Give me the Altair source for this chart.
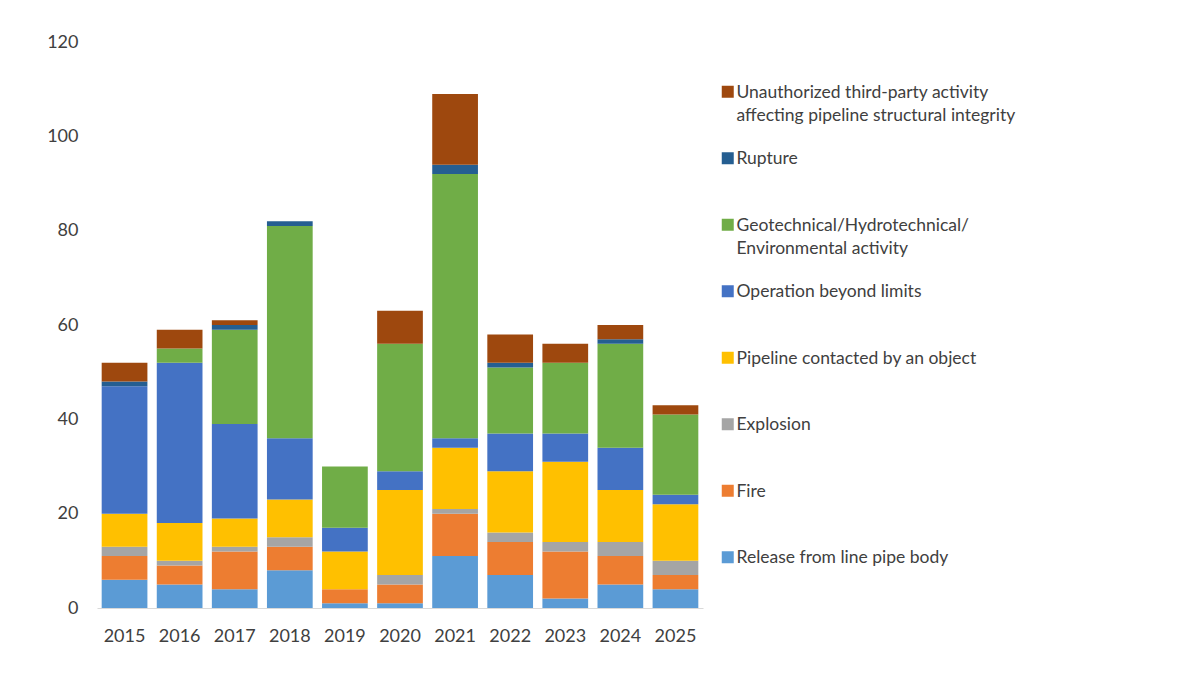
import altair as alt
import pandas as pd

years = ["2015", "2016", "2017", "2018", "2019", "2020",
         "2021", "2022", "2023", "2024", "2025"]

# Stack order, bottom to top
categories = [
    "Release from line pipe body",
    "Fire",
    "Explosion",
    "Pipeline contacted by an object",
    "Operation beyond limits",
    "Geotechnical/Hydrotechnical/\nEnvironmental activity",
    "Rupture",
    "Unauthorized third-party activity\naffecting pipeline structural integrity",
]
colors = ["#5B9BD5", "#ED7D31", "#A5A5A5", "#FFC000",
          "#4472C4", "#70AD47", "#255E91", "#9E480E"]

release = [6, 5, 4, 8, 1, 1, 11, 7, 2, 5, 4]
fire = [5, 4, 8, 5, 3, 4, 9, 7, 10, 6, 3]
explosion = [2, 1, 1, 2, 0, 2, 1, 2, 2, 3, 3]
contacted = [7, 8, 6, 8, 8, 18, 13, 13, 17, 11, 12]
operation = [27, 34, 20, 13, 5, 4, 2, 8, 6, 9, 2]
geotechnical = [0, 3, 20, 45, 13, 27, 56, 14, 15, 22, 17]
rupture = [1, 0, 1, 1, 0, 0, 2, 1, 0, 1, 0]
unauthorized = [4, 4, 1, 0, 0, 7, 15, 6, 4, 3, 2]

series = [release, fire, explosion, contacted, operation,
          geotechnical, rupture, unauthorized]

rows = []
for order, (cat, vals) in enumerate(zip(categories, series)):
    for year, v in zip(years, vals):
        rows.append({"Year": year, "Category": cat, "Count": v, "Order": order})
df = pd.DataFrame(rows)

text_color = "#404040"
font = "Lato"
label_shift = 8  # guide labels are lifted by this much (see style below)

chart = alt.Chart(df).mark_bar().encode(
    x=alt.X("Year:N", sort=years, title=None,
            scale=alt.Scale(paddingInner=0.17, paddingOuter=0.085),
            axis=alt.Axis(labelAngle=0, ticks=False, domainColor="#D9D9D9",
                          labelFontSize=18, labelColor=text_color,
                          labelPadding=19 + label_shift, labelFont=font)),
    y=alt.Y("Count:Q", stack="zero", title=None,
            scale=alt.Scale(domain=[0, 120], nice=False),
            axis=alt.Axis(values=[0, 20, 40, 60, 80, 100, 120], grid=False,
                          domain=False, ticks=False, labelFontSize=18,
                          labelColor=text_color, labelPadding=19,
                          labelOffset=label_shift, labelFont=font)),
    color=alt.Color(
        "Category:N", title=None,
        scale=alt.Scale(domain=categories[::-1], range=colors[::-1]),
        legend=alt.Legend(
            orient="none", legendX=622, legendY=41,
            symbolType="square", symbolSize=144, symbolStrokeWidth=0,
            labelFontSize=17.5, labelColor=text_color, labelFont=font,
            labelLimit=400, labelOffset=0, labelBaseline="top",
            labelExpr="split(datum.label, '\\n')",
            gridAlign="all", rowPadding=24.5,
        ),
    ),
    order=alt.Order("Order:Q", sort="ascending"),
).properties(
    width=606, height=566,
    autosize=alt.AutoSizeParams(type="none"),
    padding={"left": 97, "top": 42, "right": 497, "bottom": 81},
).configure(
    font=font,
    style={"guide-label": {"dy": -label_shift, "lineHeight": 23}},
).configure_view(stroke=None)

chart.save("out.html", embed_options={"renderer": "svg", "actions": False})
